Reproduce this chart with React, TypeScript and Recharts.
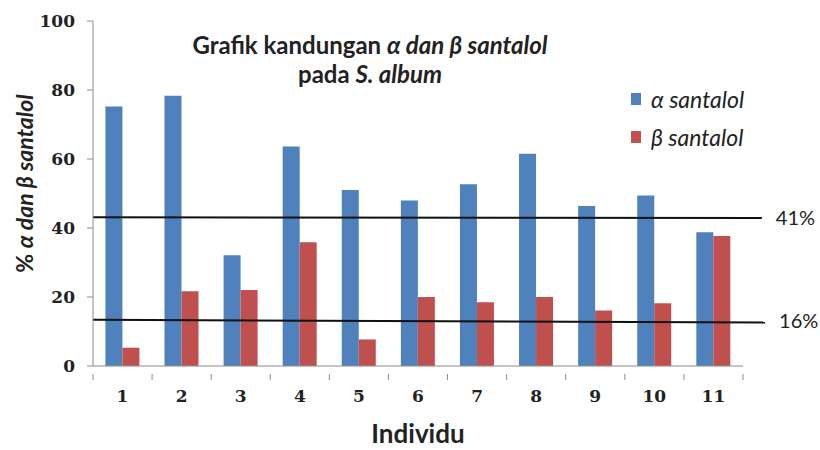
import React from "react";
import {
  BarChart,
  Bar,
  XAxis,
  YAxis,
  ReferenceLine,
} from "recharts";

const individu = ["1", "2", "3", "4", "5", "6", "7", "8", "9", "10", "11"];
const alphaSantalol = [75.2, 78.3, 32.1, 63.6, 51, 48, 52.7, 61.5, 46.4, 49.4, 38.8];
const betaSantalol = [5.3, 21.7, 22, 35.9, 7.7, 20, 18.5, 20, 16.1, 18.2, 37.7];
const yTicks = [0, 20, 40, 60, 80, 100];

// threshold lines as drawn (slightly tilted in the original)
const upperLine = [43.1, 42.9];
const lowerLine = [13.4, 12.6];

const data = individu.map((name, i) => ({
  name,
  alpha: alphaSantalol[i],
  beta: betaSantalol[i],
}));

const BLUE = "#4F81BD";
const RED = "#C0504D";
const AXIS = "#8c8c8c";
const TICK_FONT = "'DejaVu Serif', serif";
const SANS = "Lato, 'Open Sans', sans-serif";

const legendItems = [
  { color: BLUE, label: "α santalol" },
  { color: RED, label: "β santalol" },
];

const CategoryTick = (props: any) => {
  const { x, y, payload, index } = props;
  const half = payload.offset || 0;
  return (
    <g>
      <line x1={x - half} x2={x - half} y1={y} y2={y + 6} stroke={AXIS} />
      {index === individu.length - 1 && (
        <line x1={x + half} x2={x + half} y1={y} y2={y + 6} stroke={AXIS} />
      )}
      <text
        x={x}
        y={y + 28}
        textAnchor="middle"
        fontFamily={TICK_FONT}
        fontWeight="bold"
        fontSize={17}
        fill="#222"
      >
        {payload.value}
      </text>
    </g>
  );
};

const YLabel = (props: any) => {
  const vb = props.viewBox || {};
  const cx = 24;
  const cy = vb.y + vb.height / 2 - 10;
  return (
    <text
      x={cx}
      y={cy}
      transform={`rotate(-90, ${cx}, ${cy})`}
      textAnchor="middle"
      dominantBaseline="central"
      fontFamily={SANS}
      fontWeight="bold"
      fontSize={23}
      fill="#222"
    >
      %{" "}
      <tspan fontStyle="italic">α dan β santalol</tspan>
    </text>
  );
};

const refLabel = (value: string) => ({
  value,
  position: "right" as const,
  offset: 14,
  fontFamily: SANS,
  fontSize: 20,
  fill: "#222",
});

export default function App() {
  return (
    <div
      style={{
        position: "absolute",
        left: 0,
        top: 0,
        width: 820,
        height: 450,
        background: "#fff",
      }}
    >
      <div
        style={{
          position: "absolute",
          left: 170,
          width: 400,
          top: 30,
          textAlign: "center",
          fontFamily: SANS,
          fontWeight: "bold",
          fontSize: 24,
          lineHeight: "29px",
          color: "#222",
          zIndex: 2,
        }}
      >
        <div>
          Grafik kandungan <i>α dan β santalol</i>
        </div>
        <div>
          pada <i>S. album</i>
        </div>
      </div>
      <div
        style={{
          position: "absolute",
          left: 631,
          top: 80,
          fontFamily: SANS,
          fontSize: 23,
          color: "#222",
          zIndex: 2,
        }}
      >
        {legendItems.map((e) => (
          <div
            key={e.label}
            style={{ display: "flex", alignItems: "center", height: 38 }}
          >
            <span
              style={{
                width: 10,
                height: 12,
                background: e.color,
                display: "inline-block",
                marginRight: 10,
              }}
            />
            <span style={{ fontStyle: "italic" }}>{e.label}</span>
          </div>
        ))}
      </div>
      <BarChart
        width={820}
        height={450}
        data={data}
        margin={{ top: 21, right: 77, left: 0, bottom: 0 }}
        barCategoryGap="21%"
        barGap={0}
      >
        <XAxis
          dataKey="name"
          height={84}
          axisLine={{ stroke: AXIS }}
          tickLine={false}
          tick={<CategoryTick />}
          interval={0}
          label={{
            value: "Individu",
            position: "insideBottom",
            offset: 7,
            fontFamily: SANS,
            fontWeight: "bold",
            fontSize: 26,
            fill: "#222",
          }}
        />
        <XAxis
          xAxisId="seg"
          type="number"
          domain={[0, 10]}
          allowDataOverflow
          height={0}
          hide
        />
        <YAxis
          width={93}
          domain={[0, 100]}
          ticks={yTicks}
          interval={0}
          axisLine={{ stroke: AXIS }}
          tickLine={{ stroke: AXIS }}
          tickSize={6}
          tickMargin={12}
          tick={{
            fontFamily: TICK_FONT,
            fontWeight: "bold",
            fontSize: 17,
            fill: "#222",
          }}
          label={<YLabel />}
        />
        <Bar dataKey="alpha" name="α santalol" fill={BLUE} isAnimationActive={false} />
        <Bar dataKey="beta" name="β santalol" fill={RED} isAnimationActive={false} />
        <ReferenceLine
          xAxisId="seg"
          segment={[
            { x: 0, y: upperLine[0] },
            { x: 10.29, y: upperLine[1] },
          ]}
          stroke="#111"
          strokeWidth={2}
          ifOverflow="visible"
          label={refLabel("41%")}
        />
        <ReferenceLine
          xAxisId="seg"
          segment={[
            { x: 0, y: lowerLine[0] },
            { x: 10.34, y: lowerLine[1] },
          ]}
          stroke="#111"
          strokeWidth={2}
          ifOverflow="visible"
          label={refLabel("16%")}
        />
      </BarChart>
    </div>
  );
}
